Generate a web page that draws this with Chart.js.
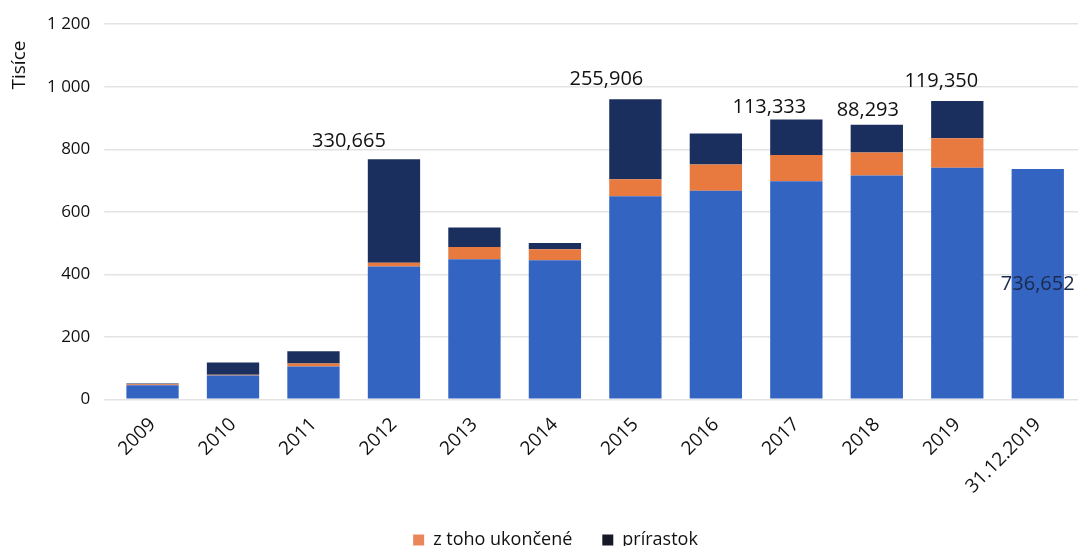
<!DOCTYPE html>
<html>
<head>
<meta charset="utf-8">
<script src="https://cdn.jsdelivr.net/npm/chart.js@4"></script>
<style>
  html, body { margin: 0; padding: 0; background: #fff; }
  #wrap { width: 1079px; height: 548px; position: relative; }
</style>
</head>
<body>
<div id="wrap"><canvas id="chart"></canvas></div>
<script>
// kategórie a hodnoty (tisíce)
const categories = ['2009', '2010', '2011', '2012', '2013', '2014', '2015', '2016', '2017', '2018', '2019', '31.12.2019'];
const zaklad = [45, 76, 105, 425, 448, 445, 650, 667, 698, 716, 741, 736.652];
const ukoncene = [3, 3, 10, 12, 39, 35, 54, 84, 84, 74, 94, 0];
const prirastok = [3, 39, 39, 330.665, 63, 20, 255.906, 99, 113.333, 88.293, 119.350, 0];
const yTicks = [0, 200, 400, 600, 800, 1000, 1200];

// ktoré stĺpce majú popisok
const labelNavy = [3, 6, 8, 9, 10];
const labelBase = [11];

const fmt = (v) => v.toFixed(3).replace('.', ',');
const FONT = '"Open Sans", sans-serif';

// popisky nad stĺpcami + názov osi
const valueLabels = {
    id: 'valueLabels',
    beforeInit(chart) {
        // legendu posunúť nižšie
        const fit = chart.legend.fit;
        chart.legend.fit = function () {
            fit.call(this);
            this.height -= 13;
        };
    },
    afterDatasetsDraw(chart) {
        const ctx = chart.ctx;
        ctx.save();
        ctx.font = '20px ' + FONT;
        ctx.fillStyle = '#111';
        ctx.textAlign = 'center';
        const top = chart.getDatasetMeta(2).data;
        const base = chart.getDatasetMeta(0).data;
        // posuny popiskov [dx, dy]
        const off = { 3: [-45, 12], 6: [-29, 14], 8: [-27, 6], 9: [-9, 9], 10: [-16, 14] };
        labelNavy.forEach(i => {
            const el = top[i];
            ctx.textBaseline = 'alphabetic';
            ctx.fillText(fmt(prirastok[i]), el.x + off[i][0], el.y - off[i][1]);
        });
        labelBase.forEach(i => {
            const el = base[i];
            ctx.textBaseline = 'middle';
            ctx.fillStyle = '#1c2a4a';
            ctx.fillText(fmt(zaklad[i]), el.x, (el.y + el.base) / 2);
        });
        ctx.fillStyle = '#111';
        ctx.font = '19px ' + FONT;
        ctx.translate(20, 65);
        ctx.rotate(-Math.PI / 2);
        ctx.textBaseline = 'middle';
        ctx.fillText('Tisíce', 0, 0);
        ctx.restore();
    }
};

const ctx = document.getElementById('chart').getContext('2d');
new Chart(ctx, {
    type: 'bar',
    data: {
        labels: categories,
        datasets: [
            { label: 'spolu', data: zaklad, backgroundColor: '#3464C2' },
            { label: 'z toho ukončené', data: ukoncene, backgroundColor: '#E8793F' },
            { label: 'prírastok', data: prirastok, backgroundColor: '#1B2F5E' }
        ]
    },
    options: {
        responsive: true,
        maintainAspectRatio: false,
        animation: false,
        devicePixelRatio: 1,
        categoryPercentage: 1,
        barPercentage: 0.65,
        layout: { padding: { left: 33, right: 1, top: 13, bottom: 2 } },
        scales: {
            x: {
                stacked: true,
                grid: { display: false },
                border: { display: false },
                afterFit: (scale) => { scale.height -= 3; },
                ticks: {
                    color: '#111',
                    font: { family: FONT, size: 19 },
                    maxRotation: 45,
                    minRotation: 45,
                    padding: 6
                }
            },
            y: {
                stacked: true,
                min: 0,
                max: 1200,
                afterBuildTicks: (axis) => { axis.ticks = yTicks.map(v => ({ value: v })); },
                grid: { color: '#e3e3e3', lineWidth: 1.5 },
                border: { display: false },
                ticks: {
                    color: '#111',
                    padding: 14,
                    font: { family: FONT, size: 17 },
                    callback: (v) => String(v).replace(/\B(?=(\d{3})+(?!\d))/g, ' ')
                }
            }
        },
        plugins: {
            legend: {
                position: 'bottom',
                labels: {
                    color: '#111',
                    font: { family: FONT, size: 18 },
                    boxWidth: 11,
                    boxHeight: 11,
                    padding: 30,
                    generateLabels: (chart) => Chart.defaults.plugins.legend.labels.generateLabels(chart)
                        .map(l => ({ ...l, fillStyle: l.datasetIndex === 1 ? '#E9875A' : '#151a26' })),
                    filter: (item) => item.datasetIndex !== 0
                }
            },
            tooltip: { enabled: false }
        }
    },
    plugins: [valueLabels]
});
</script>
</body>
</html>
